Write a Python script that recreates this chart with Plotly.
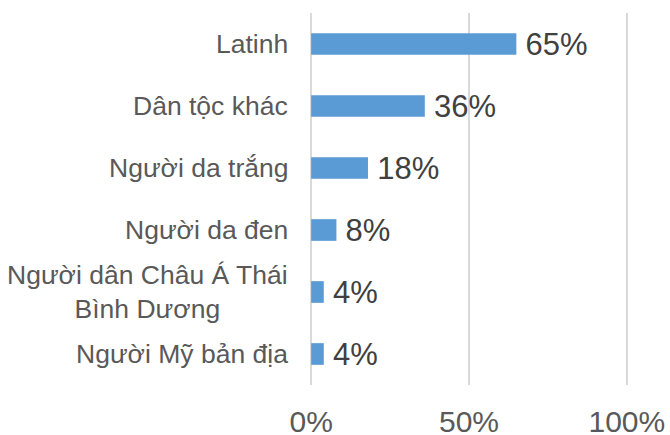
import plotly.graph_objects as go

categories = ["Latinh", "Dân tộc khác", "Người da trắng", "Người da đen",
              "Người dân Châu Á Thái<br>Bình Dương", "Người Mỹ bản địa"]
values = [65, 36, 18, 8, 4, 4]
tick_vals = [0, 50, 100]
tick_text = ["0%", "50%", "100%"]

FONT = "Liberation Sans, Arial, sans-serif"

fig = go.Figure()
fig.add_trace(go.Bar(
    x=values, y=categories, orientation="h",
    marker=dict(color="#5B9BD5", line=dict(width=0)),
    text=["\u2009" + f"{v}%" for v in values],
    textposition="outside", constraintext="none", cliponaxis=False,
    textfont=dict(family=FONT, size=31, color="#404040"),
    width=0.35,
))

for c in categories:
    fig.add_annotation(
        x=0, xref="paper", y=c, yref="y", text=c, showarrow=False,
        xanchor="right", yanchor="middle", xshift=-18, align="center",
        font=dict(family=FONT, size=26.5, color="#595959"),
    )

fig.update_layout(
    width=670, height=435,
    margin=dict(l=308, r=40, t=13, b=50),
    plot_bgcolor="white", paper_bgcolor="white",
    showlegend=False,
    xaxis=dict(range=[-1, 101], tickvals=tick_vals, ticktext=tick_text,
               showgrid=True, gridcolor="#D9D9D9", gridwidth=2,
               zeroline=False, showline=False, automargin=False,
               ticks="outside", ticklen=10, tickcolor="rgba(0,0,0,0)",
               tickfont=dict(family=FONT, size=30, color="#595959"),
               fixedrange=True),
    yaxis=dict(categoryorder="array", categoryarray=categories[::-1],
               showticklabels=False, showgrid=False, zeroline=False,
               showline=False, automargin=False, fixedrange=True),
)

fig.write_html("out.html", config={"displayModeBar": False},
               post_script="document.body.style.margin='0';document.body.style.overflow='hidden';")
